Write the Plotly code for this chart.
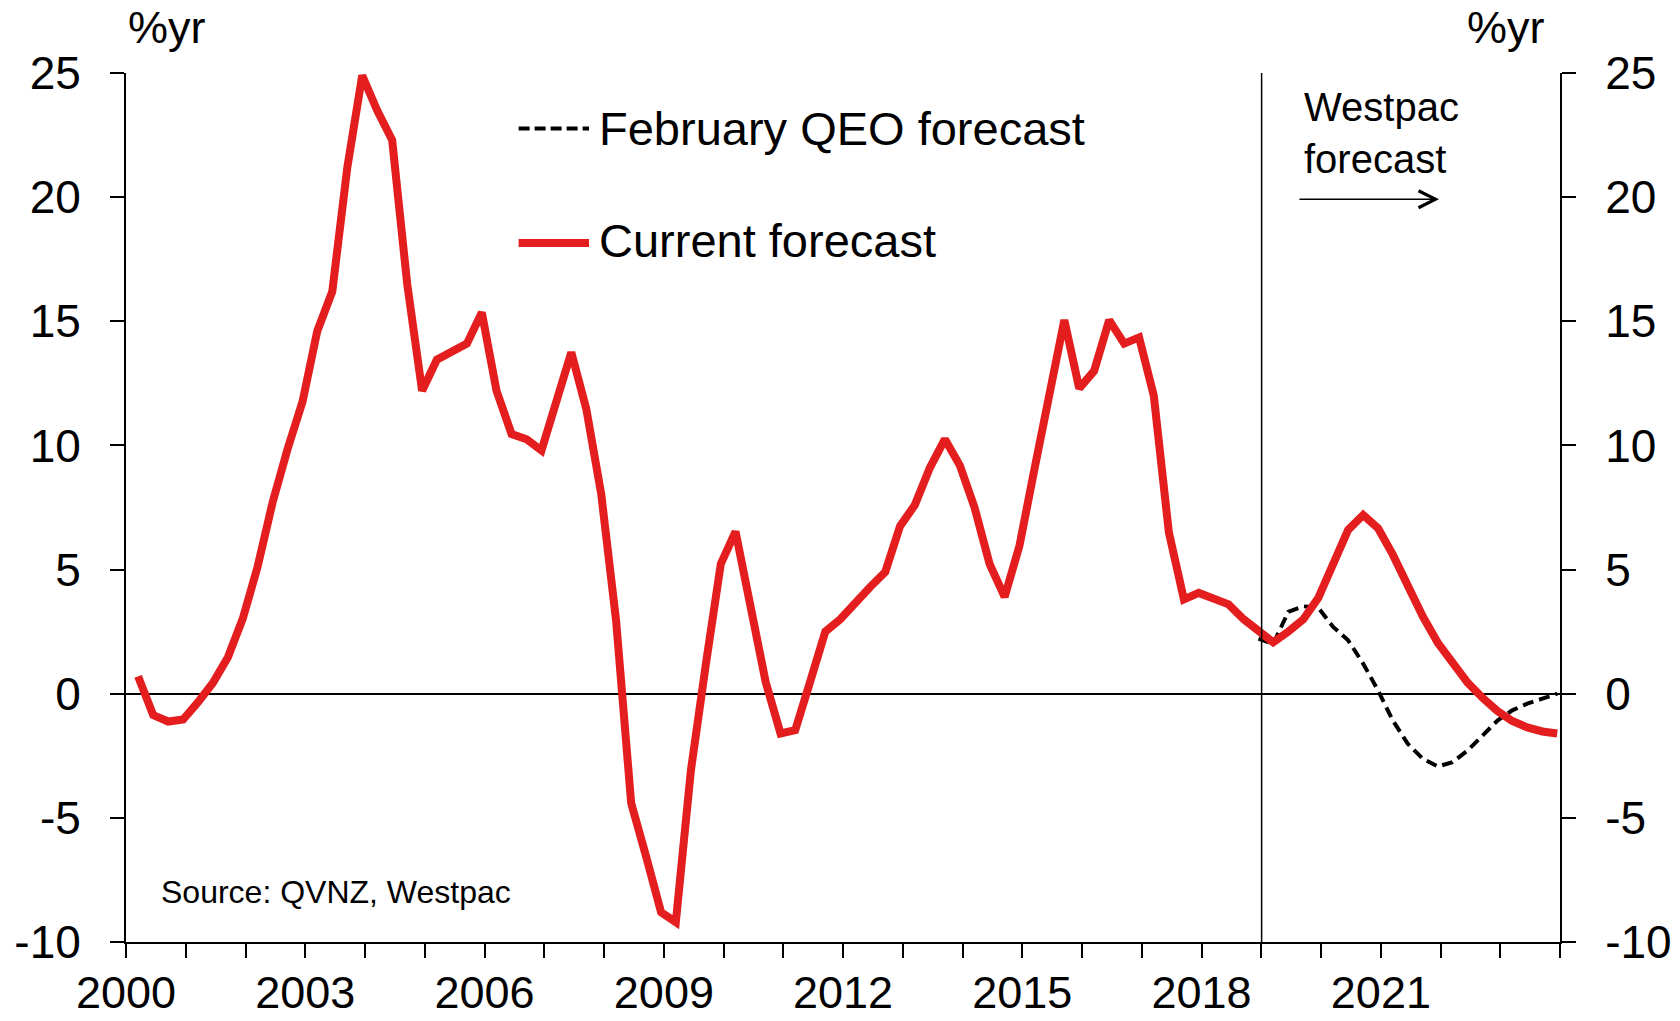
import pandas as pd
import plotly.graph_objects as go

# ---------------- data ----------------
quarters = pd.date_range("2000-03-15", periods=96, freq=pd.DateOffset(months=3)).strftime("%Y-%m-%d").tolist()

current_forecast = [
    0.7, -0.86, -1.12, -1.04, -0.35, 0.43, 1.47, 3.03,
    5.1, 7.7, 9.86, 11.76, 14.6, 16.2, 21.2, 24.9,
    23.5, 22.3, 16.5, 12.2, 13.45, 13.75, 14.1, 15.35,
    12.2, 10.46, 10.25, 9.8, 11.7, 13.75, 11.46, 8.04,
    2.94, -4.4, -6.57, -8.8, -9.2, -3.1, 1.2, 5.23,
    6.53, 3.6, 0.48, -1.6, -1.47, 0.5, 2.5, 3.0,
    3.7, 4.3, 4.9, 6.75, 7.6, 9.1, 10.25, 9.2,
    7.5, 5.23, 3.9, 5.97, 9.0, 11.9, 15.05, 12.3,
    13.0, 15.05, 14.1, 14.35, 12.0, 6.5, 3.8, 4.06,
    3.8, 3.6, 3.0, 2.55, 2.07, 2.5, 3.0, 3.85,
    5.2, 6.6, 7.2, 6.66, 5.6, 4.3, 3.1, 2.05,
    1.2, 0.45, -0.17, -0.7, -1.1, -1.36, -1.52, -1.6,
]

feb_qeo_quarters = quarters[75:]
feb_qeo_forecast = [
    2.22, 2.0, 3.3, 3.52, 3.47, 2.69, 2.15, 1.21,
    0.13, -1.08, -2.02, -2.62, -2.93, -2.76, -2.29, -1.68,
    -1.08, -0.67, -0.40, -0.2, 0.0,
]

year_ticks = [f"{y}-01-01" for y in range(2000, 2025)]
year_labels = [str(y) if (y - 2000) % 3 == 0 and y < 2024 else "" for y in range(2000, 2025)]
y_ticks = [-10, -5, 0, 5, 10, 15, 20, 25]
y_labels = ["-10", "-5", "0", "5", "10", "15", "20", "25"]

forecast_start = "2019-01-03"

RED = "#E41E1E"
FONT = "Arial, Liberation Sans, sans-serif"

# ---------------- figure ----------------
fig = go.Figure()
fig.add_trace(go.Scatter(
    x=feb_qeo_quarters, y=feb_qeo_forecast, mode="lines",
    line=dict(color="black", width=4, dash="11px,6px"),
    name="February QEO forecast", showlegend=False,
))
fig.add_trace(go.Scatter(
    x=quarters, y=current_forecast, mode="lines",
    line=dict(color=RED, width=8),
    name="Current forecast", showlegend=False,
))
# right axis companion (invisible)
fig.add_trace(go.Scatter(x=[quarters[0]], y=[None], yaxis="y2", showlegend=False,
                         hoverinfo="skip", mode="lines"))

axis_common = dict(
    range=[-10, 25], tickvals=y_ticks, ticktext=y_labels, ticks="outside", ticklen=14, tickwidth=2,
    tickcolor="black", showline=True, linecolor="black", linewidth=2,
    showgrid=False, tickfont=dict(family=FONT, size=46, color="black"),
    ticklabelstandoff=20, automargin=False,
)

fig.update_layout(
    width=1680, height=1021,
    margin=dict(l=126, r=120, t=73, b=79, autoexpand=False),
    paper_bgcolor="white", plot_bgcolor="white",
    font=dict(family=FONT, color="black"),
    xaxis=dict(
        type="date", range=["2000-01-01", "2024-01-01"],
        tickvals=year_ticks, ticktext=year_labels,
        ticks="outside", ticklen=14, tickwidth=2, tickcolor="black",
        showline=True, linecolor="black", linewidth=2, showgrid=False,
        zeroline=False, tickfont=dict(family=FONT, size=45, color="black"),
        ticklabelstandoff=-4, automargin=False,
    ),
    yaxis=dict(**axis_common, zeroline=True, zerolinecolor="black", zerolinewidth=1.5),
    yaxis2=dict(**axis_common, overlaying="y", side="right", zeroline=False),
    showlegend=False,
)

# forecast divider
fig.add_shape(type="line", xref="x", yref="paper", x0=forecast_start, x1=forecast_start,
              y0=0, y1=1, line=dict(color="black", width=1.5))

# manual legend
fig.add_shape(type="line", xref="paper", yref="paper", x0=0.2738, x1=0.3229, y0=0.9361, y1=0.9361,
              line=dict(color="black", width=4, dash="11px,5px"))
fig.add_shape(type="line", xref="paper", yref="paper", x0=0.2738, x1=0.3229, y0=0.8044, y1=0.8044,
              line=dict(color=RED, width=8))
fig.add_annotation(xref="paper", yref="paper", x=0.3284, y=0.9367, xanchor="left", yanchor="middle",
                   text="February QEO forecast", showarrow=False,
                   font=dict(family=FONT, size=47, color="black"))
fig.add_annotation(xref="paper", yref="paper", x=0.3284, y=0.8078, xanchor="left", yanchor="middle",
                   text="Current forecast", showarrow=False,
                   font=dict(family=FONT, size=47, color="black"))

# unit labels
fig.add_annotation(xref="paper", yref="paper", x=0.0, y=1.0518, xanchor="left", yanchor="middle",
                   text="%yr", showarrow=False, font=dict(family=FONT, size=45, color="black"))
fig.add_annotation(xref="paper", yref="paper", x=0.991, y=1.0518, xanchor="right", yanchor="middle",
                   text="%yr", showarrow=False, font=dict(family=FONT, size=45, color="black"))

# source
fig.add_annotation(xref="paper", yref="paper", x=0.023, y=0.0579, xanchor="left", yanchor="middle",
                   text="Source: QVNZ, Westpac", showarrow=False,
                   font=dict(family=FONT, size=32, color="black"))

# Westpac forecast note + arrow
fig.add_annotation(xref="paper", yref="paper", x=0.8201, y=0.931, xanchor="left", yanchor="middle",
                   text="Westpac<br>forecast", align="left", showarrow=False,
                   font=dict(family=FONT, size=40, color="black"))
fig.add_annotation(xref="paper", yref="paper", x=0.9156, y=0.8547, ax=-141, ay=0,
                   text="", showarrow=True, arrowhead=5, arrowsize=2.2, arrowwidth=1.5,
                   arrowcolor="black")

fig.write_html("out.html", config={"displayModeBar": False},
               post_script="document.body.style.margin='0';document.body.style.overflow='hidden';")
